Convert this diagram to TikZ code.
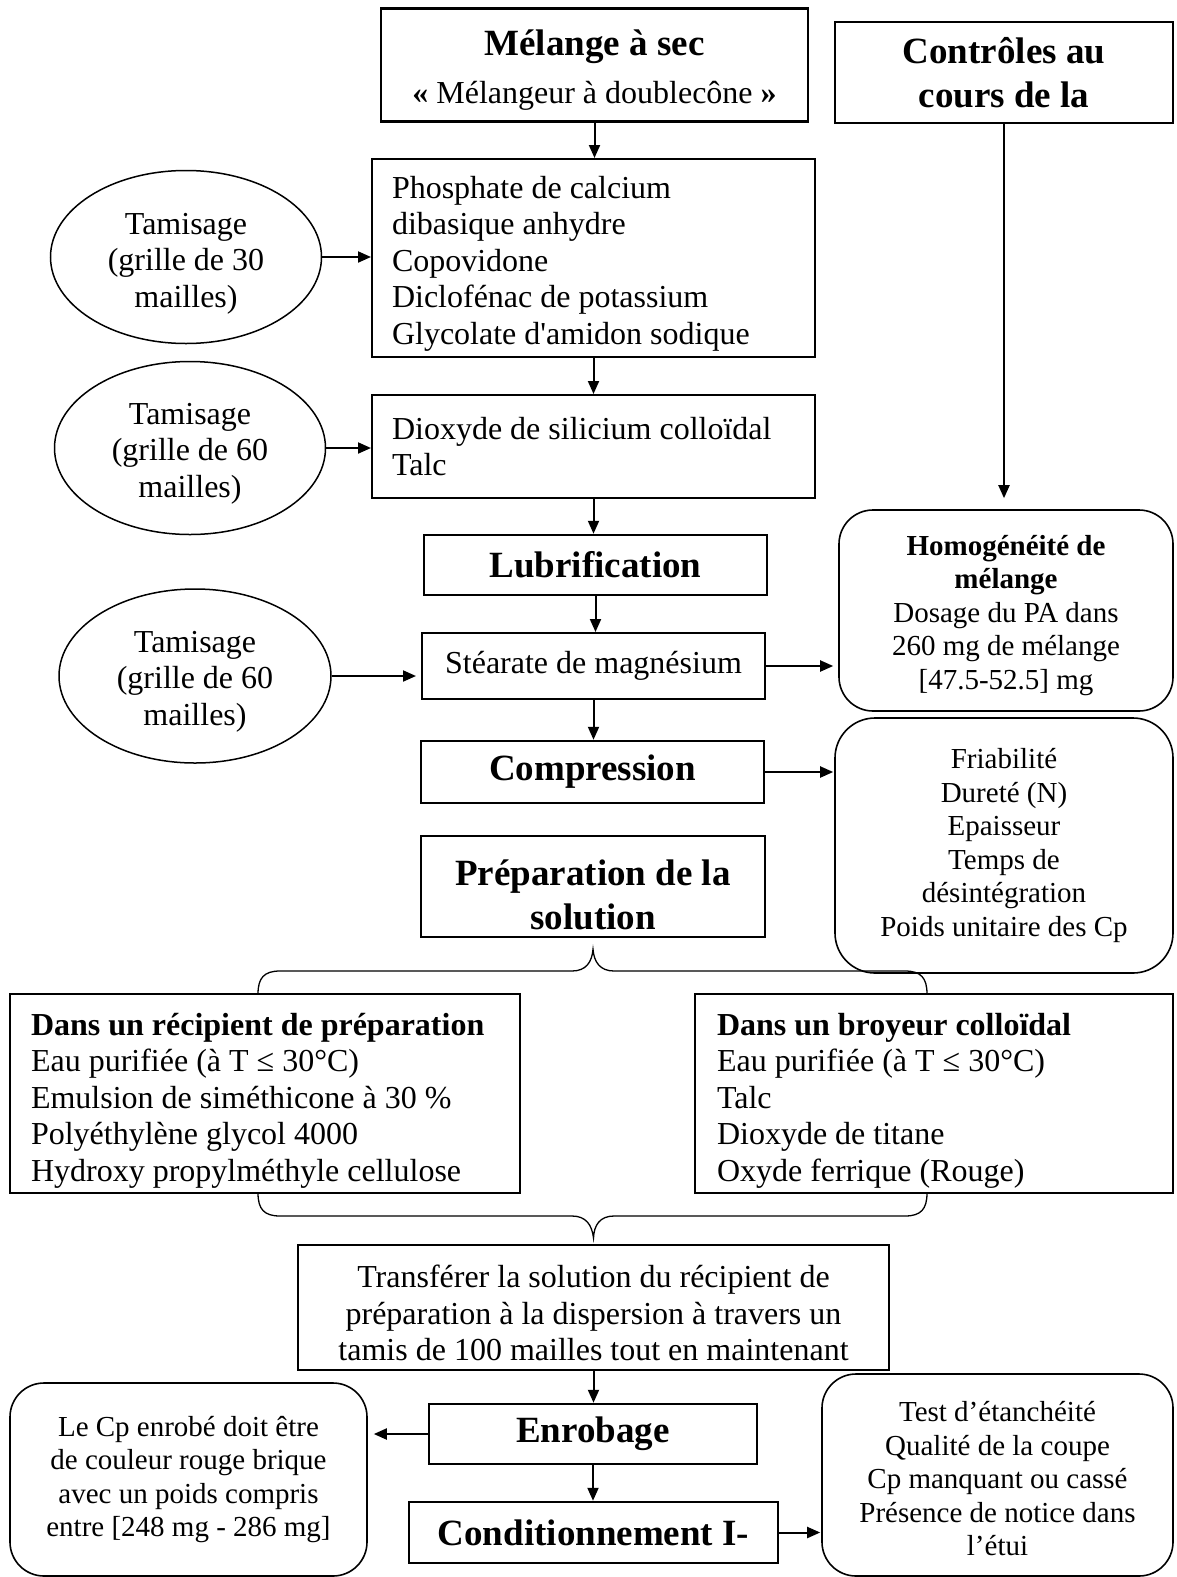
\documentclass[tikz,border=0pt]{standalone}
\usepackage{fontspec}
\setmainfont{Liberation Serif}[Ligatures=TeXOff]
\usepackage{tikz}
\usetikzlibrary{positioning,arrows.meta,shapes.geometric,calc}
\newcommand{\fsBody}{\fontsize{32}{36.5}\selectfont}
\newcommand{\fsSmall}{\fontsize{29}{33.5}\selectfont}
\newcommand{\fsTitle}{\bfseries\fontsize{37}{44}\selectfont}
% strut that pushes a block of lines down inside its box
\newcommand{\liftline}[1]{\rule{0pt}{#1}}
\tikzset{
  node-box/.style={draw,line width=2pt,inner sep=0pt,align=center,font=\fsBody},
  node-title/.style={node-box,line width=2.5pt,font=\fsTitle},
  node-list/.style={draw,line width=2pt,inner xsep=20pt,inner ysep=0pt,
    align=flush left,font=\fsBody},
  node-round/.style={draw,line width=1.6pt,rounded corners=34pt,inner sep=0pt,
    align=center,font=\fsSmall},
  node-sieve/.style={draw,ellipse,line width=1.5pt,inner sep=0pt,align=center,
    minimum width=271pt,minimum height=173pt,font=\fsBody},
  arrow/.style={-{Triangle[length=13pt,width=11pt]},line width=2pt},
  brace-line/.style={line width=1.3pt},
}

\begin{document}
\begin{tikzpicture}[x=1pt,y=-1pt]
  \useasboundingbox (0,0) rectangle (1177,1577);
  % colonne principale
  \node[node-box,line width=2.5pt,minimum width=427pt,minimum height=113pt] (mel) at (594.5,65)
    {{\fsTitle\liftline{36pt}Mélange à sec}\\[12pt]\textbf{«} Mélangeur à doublecône \textbf{»}};
  \node[node-list,text width=403pt,minimum height=198pt] (ing1) at (593.5,258)
    {\liftline{33pt}Phosphate de calcium\\dibasique anhydre\\Copovidone\\Diclofénac de potassium\\Glycolate d'amidon sodique};
  \node[node-list,text width=403pt,minimum height=103pt] (ing2) at (593.5,446.5)
    {Dioxyde de silicium colloïdal\\Talc};
  \node[node-title,minimum width=343pt,minimum height=60pt] (lub) at (595.5,565) {Lubrification};
  \node[node-box,minimum width=343pt,minimum height=66pt] (stear) at (593.5,666) {Stéarate de magnésium};
  \node[node-title,minimum width=343pt,minimum height=62pt] (comp) at (592.5,772) {Compression};
  \node[node-title,minimum width=344pt,minimum height=101pt] (prep) at (593,886.5)
    {\liftline{42pt}Préparation de la\\solution};
  \node[node-list,inner xsep=21pt,text width=468pt,minimum height=199pt] (recip) at (265,1093.5)
    {\liftline{36pt}\textbf{Dans un récipient de préparation}\\Eau purifiée (à T ≤ 30°C)\\Emulsion de siméthicone à 30 \%\\Polyéthylène glycol 4000\\Hydroxy propylméthyle cellulose};
  \node[node-list,inner xsep=22pt,text width=434pt,minimum height=199pt] (broy) at (934,1093.5)
    {\liftline{36pt}\textbf{Dans un broyeur colloïdal}\\Eau purifiée (à T ≤ 30°C)\\Talc\\Dioxyde de titane\\Oxyde ferrique (Rouge)};
  \node[node-box,minimum width=591pt,minimum height=125pt] (transf) at (593.5,1307.5)
    {\liftline{34pt}Transférer la solution du récipient de\\préparation à la dispersion à travers un\\tamis de 100 mailles tout en maintenant};
  \node[node-title,minimum width=328pt,minimum height=60pt] (enrob) at (593,1434) {Enrobage};
  \node[node-title,minimum width=369pt,minimum height=61pt] (cond) at (593.5,1532.5) {Conditionnement I-};

  % tamisages
  \node[node-sieve] (ell1) at (186,257) {\liftline{34pt}Tamisage\\(grille de 30\\mailles)};
  \node[node-sieve] (ell2) at (190,448) {\liftline{32pt}Tamisage\\(grille de 60\\mailles)};
  \node[node-sieve,minimum width=272pt,minimum height=174pt] (ell3) at (195,676)
    {\liftline{32pt}Tamisage\\(grille de 60\\mailles)};

  % contrôles
  \node[node-title,minimum width=338pt,minimum height=101pt] (ctrl) at (1004,72.5)
    {Contrôles au\\cours de la};
  \node[node-round,minimum width=334pt,minimum height=201pt] (homog) at (1006,610.5)
    {\liftline{30pt}\textbf{Homogénéité de}\\\textbf{mélange}\\Dosage du PA dans\\260 mg de mélange\\{[47.5-52.5] mg}};
  \node[node-round,rounded corners=40pt,minimum width=338pt,minimum height=255pt] (friab) at (1004,845.5)
    {Friabilité\\Dureté (N)\\Epaisseur\\Temps de\\désintégration\\Poids unitaire des Cp};
  \node[node-round,minimum width=357pt,minimum height=193pt] (lecp) at (188.5,1479.5)
    {Le Cp enrobé doit être\\de couleur rouge brique\\avec un poids compris\\entre {[248 mg - 286 mg]}};
  \node[node-round,minimum width=351pt,minimum height=202pt] (test) at (997.5,1475)
    {\liftline{28pt}Test d’étanchéité\\Qualité de la coupe\\Cp manquant ou cassé\\Présence de notice dans\\l’étui};

  % flèches
  \draw[arrow] (mel.south) -- (mel.south |- ing1.north);
  \draw[arrow] (ing1.south) -- (ing1.south |- ing2.north);
  \draw[arrow] (ing2.south) -- (ing2.south |- lub.north);
  \draw[arrow] (lub.south) -- (lub.south |- stear.north);
  \draw[arrow] (stear.south) -- (stear.south |- comp.north);
  \draw[arrow] (ell1.east) -- (ell1.east -| ing1.west);
  \draw[arrow] (ell2.east) -- (ell2.east -| ing2.west);
  \draw[arrow,shorten >=5pt] (ell3.east) -- (ell3.east -| stear.west);
  \draw[arrow,shorten >=11pt] (ctrl.south) -- (ctrl.south |- homog.north);
  \draw[arrow,shorten >=5pt] (stear.east) -- (stear.east -| homog.west);
  \draw[arrow,shorten >=1pt] (comp.east) -- (comp.east -| friab.west);
  \draw[arrow] (transf.south) -- (transf.south |- enrob.north);
  \draw[arrow] (enrob.south) -- (enrob.south |- cond.north);
  \draw[arrow,shorten >=6pt] (enrob.west) -- (enrob.west -| lecp.east);
  \draw[arrow,shorten >=1pt] (cond.east) -- (cond.east -| test.west);

  % accolades
  \coordinate (bl1) at (258,994);
  \coordinate (bt1) at ($(prep.south)+(0,11)$);
  \coordinate (br1) at (927,994);
  \coordinate (bl2) at (258,1193);
  \coordinate (bt2) at ($(transf.north)+(0,-6)$);
  \coordinate (br2) at (927,1193);
  \draw[brace-line] (bl1) .. controls (258,978) and (264,971) .. (280,971) -- (572,971)
    .. controls (586,971) and (592,962) .. (bt1) .. controls (594,962) and (600,971) .. (614,971)
    -- (905,971) .. controls (921,971) and (927,978) .. (br1);
  \draw[brace-line] (bl2) .. controls (258,1209) and (264,1216) .. (280,1216) -- (572,1216)
    .. controls (586,1216) and (592,1225) .. (bt2) .. controls (594,1225) and (600,1216) .. (614,1216)
    -- (905,1216) .. controls (921,1216) and (927,1209) .. (br2);
\end{tikzpicture}
\end{document}
